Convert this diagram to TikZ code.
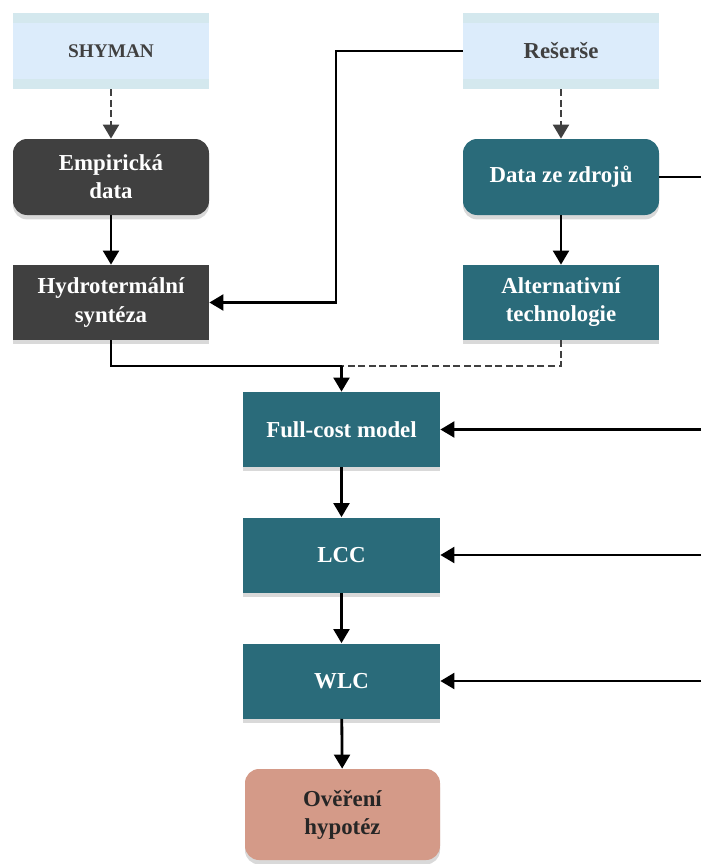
\documentclass[tikz,border=0pt]{standalone}
\usepackage{fontspec}
\setmainfont{Liberation Serif}
\usetikzlibrary{arrows.meta,shadows}

\definecolor{darkbox}{HTML}{404040}
\definecolor{tealbox}{HTML}{2A6B7A}
\definecolor{salmonbox}{HTML}{D49A88}
\definecolor{paleblue}{HTML}{DCECFB}
\definecolor{bandblue}{HTML}{D4E8EE}

\begin{document}
\begin{tikzpicture}[text centered,
    box/.style={minimum width=3.92cm, minimum height=1.52cm, inner sep=0pt,
        align=center, font=\fontsize{13}{16}\selectfont\bfseries},
    srcbox/.style={box, fill=paleblue, text=darkbox,
        path picture={
            \fill[bandblue] (path picture bounding box.north west) rectangle ([yshift=-0.2cm]path picture bounding box.north east);
            \fill[bandblue] (path picture bounding box.south west) rectangle ([yshift=0.2cm]path picture bounding box.south east);}},
    boxshadow/.style={drop shadow={opacity=0.3, shadow xshift=0pt, shadow yshift=-2.5pt}},
    darkround/.style={box, rounded corners=8pt, fill=darkbox, text=white, boxshadow},
    tealround/.style={box, rounded corners=8pt, fill=tealbox, text=white, boxshadow},
    darkrect/.style={box, fill=darkbox, text=white, boxshadow},
    tealrect/.style={box, fill=tealbox, text=white, boxshadow},
    endround/.style={box, rounded corners=8pt, fill=salmonbox, text=black!85, boxshadow},
    line/.style={line width=1.6pt, black},
    arrow/.style={line, -{Triangle[width=9pt,length=8pt]}},
    dashline/.style={line width=1.6pt, darkbox, dash pattern=on 4pt off 2pt},
    dasharrow/.style={dashline, -{Triangle[width=9pt,length=8pt]}}]

    \useasboundingbox (0,0) rectangle (14.02,-17.28);

    % sources
    \node [srcbox, font=\fontsize{11}{14}\selectfont\bfseries] (shyman) at (2.22,-1.02) {SHYMAN};
    \node [srcbox] (reserse) at (11.22,-1.02) {Rešerše};

    % data
    \node [darkround] (empir) at (2.22,-3.54) {Empirická\\data};
    \node [tealround] (zdroje) at (11.22,-3.54) {Data ze zdrojů};

    \node [darkrect, minimum height=1.5cm] (hydro) at (2.22,-6.05) {Hydrotermální\\syntéza};
    \node [tealrect, minimum height=1.5cm] (alter) at (11.22,-6.05) {Alternativní\\technologie};

    % models
    \node [tealrect, minimum width=3.94cm, minimum height=1.5cm] (fullcost) at (6.83,-8.59) {Full-cost model};
    \node [tealrect, minimum width=3.94cm, minimum height=1.5cm] (lcc) at (6.83,-11.1) {LCC};
    \node [tealrect, minimum width=3.94cm, minimum height=1.5cm] (wlc) at (6.83,-13.62) {WLC};
    \node [endround, minimum width=3.9cm, minimum height=1.82cm] (overeni) at (6.85,-16.29) {Ověření\\hypotéz};

    \coordinate (bend) at (6.72,0);
    \coordinate (merge) at (6.83,-7.32);
    \coordinate (redge) at (14.02,0);

    \draw [dasharrow] (shyman) -- (empir);
    \draw [dasharrow] (reserse) -- (zdroje);
    \draw [arrow] (empir) -- (hydro);
    \draw [arrow] (zdroje) -- (alter);

    \draw [arrow] (reserse.west) -- (reserse.west -| bend) |- (hydro.east);
    \draw [line] (zdroje.east) -- (zdroje.east -| redge);

    \draw [line] (hydro.south) |- (merge);
    \draw [dashline] (alter.south) |- (merge);
    \draw [arrow] (merge) -- (fullcost.north);

    \draw [arrow] (fullcost) -- (lcc);
    \draw [arrow] (lcc) -- (wlc);
    \draw [arrow] (wlc) -- (overeni);

    \foreach \n in {fullcost,lcc,wlc}
        \draw [arrow] (\n.east -| redge) -- (\n.east);

\end{tikzpicture}
\end{document}
